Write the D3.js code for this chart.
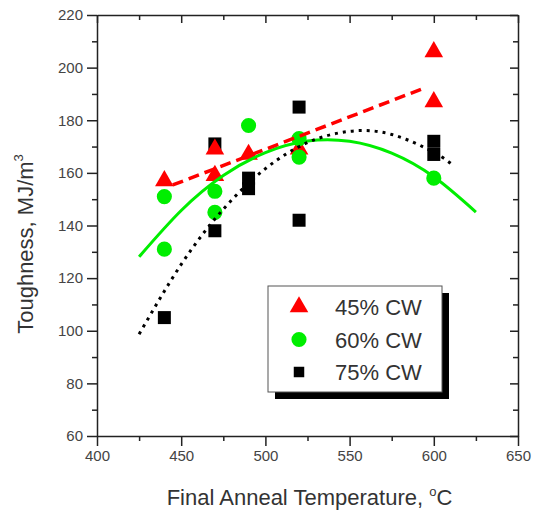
<!DOCTYPE html>
<html>
<head>
<meta charset="utf-8">
<script src="https://cdn.jsdelivr.net/npm/d3@7"></script>
<style>
  body { margin: 0; background: #fff; }
  text { font-family: Arial, "Liberation Sans", sans-serif; fill: #333; }
</style>
</head>
<body>
<svg id="chart"></svg>
<script>
const temps45 = [440, 470, 470, 490, 520, 600, 600];
const tough45 = [157, 169, 159, 167, 169, 206, 187];
const temps60 = [440, 440, 470, 470, 490, 520, 520, 600];
const tough60 = [151, 131, 153, 145, 178, 173, 166, 158];
const temps75 = [440, 470, 470, 490, 490, 520, 520, 600, 600];
const tough75 = [105, 171, 138, 158, 154, 185, 142, 172, 167];

// fit curves
const fit45T = [445, 595];
const fit45V = [155.4, 192.4];
const fit60T = [425, 450, 475, 500, 525, 550, 575, 600, 625];
const fit60V = [128.1, 145.7, 159.0, 167.7, 172.1, 172.0, 167.5, 158.5, 145.1];
const fit75T = [425, 450, 475, 500, 525, 550, 575, 600, 612];
const fit75V = [98.7, 125.2, 146.2, 161.6, 171.5, 175.8, 174.6, 167.8, 162.6];

const legendLabels = ['45% CW', '60% CW', '75% CW'];

const config = {
  width: 535, height: 519,
  margin: {top: 15, right: 17, bottom: 83, left: 97}
};

const svg = d3.select('#chart')
    .attr('width', config.width)
    .attr('height', config.height);

const w = config.width - config.margin.left - config.margin.right;
const h = config.height - config.margin.top - config.margin.bottom;

const chart = svg.append('g')
    .attr('transform', `translate(${config.margin.left},${config.margin.top})`);

const xScale = d3.scaleLinear().domain([400, 650]).range([0, w]);
const yScale = d3.scaleLinear().domain([60, 220]).range([h, 0]);

const majorX = d3.range(400, 651, 50), minorX = d3.range(425, 650, 50);
const majorY = d3.range(60, 221, 20), minorY = d3.range(70, 220, 20);

const axisColor = '#222';

function styleAxis(g) {
  g.select('.domain').attr('stroke', axisColor).attr('stroke-width', 1.5);
  g.selectAll('.tick line').attr('stroke', axisColor).attr('stroke-width', 1.5);
}

// bottom axis with labels
chart.append('g')
    .attr('transform', `translate(0,${h})`)
    .call(d3.axisBottom(xScale).tickValues(majorX).tickSize(10).tickSizeOuter(0).tickPadding(4))
    .call(styleAxis)
    .call(g => g.selectAll('text').attr('font-size', 15).style('fill', '#444'));
chart.append('g')
    .attr('transform', `translate(0,${h})`)
    .call(d3.axisBottom(xScale).tickValues(minorX).tickSize(5).tickFormat(''))
    .call(styleAxis).call(g => g.select('.domain').remove());

// left axis with labels
chart.append('g')
    .call(d3.axisLeft(yScale).tickValues(majorY).tickSize(10).tickSizeOuter(0).tickPadding(4))
    .call(styleAxis)
    .call(g => g.selectAll('text').attr('font-size', 15).style('fill', '#444'));
chart.append('g')
    .call(d3.axisLeft(yScale).tickValues(minorY).tickSize(5).tickFormat(''))
    .call(styleAxis).call(g => g.select('.domain').remove());

// mirror axes, ticks pointing in
chart.append('g')
    .call(d3.axisTop(xScale).tickValues(majorX).tickSize(-8).tickSizeOuter(0).tickFormat(''))
    .call(styleAxis);
chart.append('g')
    .call(d3.axisTop(xScale).tickValues(minorX).tickSize(-5).tickFormat(''))
    .call(styleAxis).call(g => g.select('.domain').remove());
chart.append('g')
    .attr('transform', `translate(${w},0)`)
    .call(d3.axisRight(yScale).tickValues(majorY).tickSize(-8).tickSizeOuter(0).tickFormat(''))
    .call(styleAxis);
chart.append('g')
    .attr('transform', `translate(${w},0)`)
    .call(d3.axisRight(yScale).tickValues(minorY).tickSize(-5).tickFormat(''))
    .call(styleAxis).call(g => g.select('.domain').remove());

// axis titles
const xTitle = svg.append('text')
    .attr('x', config.margin.left + w / 2 + 2)
    .attr('y', 505)
    .attr('text-anchor', 'middle')
    .attr('font-size', 22);
xTitle.append('tspan').text('Final Anneal Temperature, ');
xTitle.append('tspan').attr('font-size', 13).attr('dy', -9).text('o');
xTitle.append('tspan').attr('dy', 9).text('C');

const yTitle = svg.append('text')
    .attr('transform', 'translate(33,244) rotate(-90)')
    .attr('text-anchor', 'middle')
    .attr('font-size', 22);
yTitle.append('tspan').text('Toughness, MJ/m');
yTitle.append('tspan').attr('font-size', 13).attr('dy', -10).text('3');

// markers
const zip = (xs, ys) => xs.map((x, i) => ({x: x, y: ys[i]}));
const series = [
  {data: zip(temps75, tough75), shape: d3.symbolSquare, size: 169, color: '#000'},
  {data: zip(temps45, tough45), shape: d3.symbolTriangle, size: 150, color: '#ff0000'},
  {data: zip(temps60, tough60), shape: d3.symbolCircle, size: 180, color: '#00ee00'}
];

series.forEach(s => {
  chart.selectAll(null)
      .data(s.data)
    .join('path')
      .attr('transform', d => `translate(${xScale(d.x)},${yScale(d.y)})`)
      .attr('d', d3.symbol().type(s.shape).size(s.size))
      .attr('fill', s.color);
});

// fit lines
const line = d3.line()
    .x(d => xScale(d.x))
    .y(d => yScale(d.y))
    .curve(d3.curveNatural);

chart.append('path')
    .attr('d', line(zip(fit60T, fit60V)))
    .attr('fill', 'none').attr('stroke', '#00ee00').attr('stroke-width', 3);
chart.append('path')
    .attr('d', line(zip(fit75T, fit75V)))
    .attr('fill', 'none').attr('stroke', '#000').attr('stroke-width', 3)
    .attr('stroke-dasharray', '3,5');
chart.append('path')
    .attr('d', line(zip(fit45T, fit45V)))
    .attr('fill', 'none').attr('stroke', '#ff0000').attr('stroke-width', 3.5)
    .attr('stroke-dasharray', '11,6');

// legend box with drop shadow
const legend = svg.append('g').attr('transform', 'translate(268,286)');
legend.append('rect')
    .attr('x', 7).attr('y', 7).attr('width', 174).attr('height', 106)
    .attr('fill', '#000');
legend.append('rect')
    .attr('width', 174).attr('height', 106)
    .attr('fill', '#fff').attr('stroke', '#555').attr('stroke-width', 1);

const legendSeries = [series[1], series[2], series[0]];
legendLabels.forEach((label, i) => {
  const row = legend.append('g').attr('transform', `translate(31,${21 + i * 32.5})`);
  row.append('path')
      .attr('d', d3.symbol().type(legendSeries[i].shape).size(i === 2 ? 110 : legendSeries[i].size))
      .attr('fill', legendSeries[i].color);
  row.append('text')
      .attr('x', 36).attr('y', 8)
      .attr('font-size', 22)
      .text(label);
});
</script>
</body>
</html>
